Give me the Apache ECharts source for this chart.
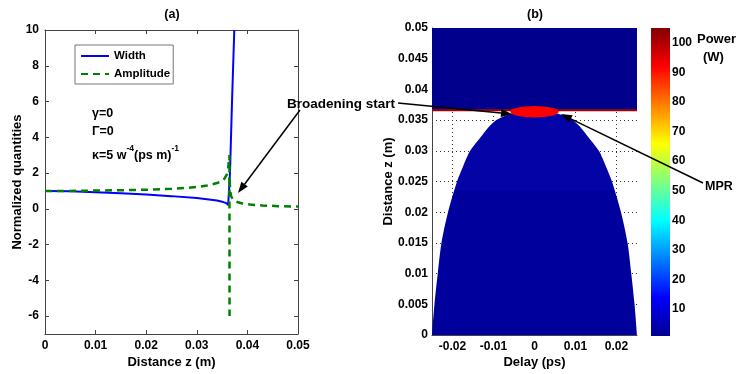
<!DOCTYPE html>
<html><head><meta charset="utf-8">
<script src="https://cdn.jsdelivr.net/npm/echarts@6/dist/echarts.min.js"></script>
<style>html,body{margin:0;padding:0;background:#fff}#c{width:737px;height:374px}</style>
</head><body><div id="c"></div>
<script>
// ---- panel (a) data ----
const zWidth = [0, 0.005, 0.01, 0.015, 0.02, 0.025, 0.03, 0.032, 0.034, 0.035, 0.0358, 0.0362, 0.03643, 0.03656, 0.03696, 0.03741];
const widthVals = [1.0, 0.98, 0.93, 0.87, 0.80, 0.71, 0.60, 0.54, 0.46, 0.40, 0.32, 0.22, 0.12, 2.0, 6.0, 10.0];
const zAmp = [0, 0.005, 0.01, 0.015, 0.02, 0.025, 0.028, 0.03, 0.032, 0.034, 0.035, 0.0355, 0.036, 0.0362, 0.03645, 0.03647, 0.03648, 0.0365, 0.0366, 0.0368, 0.0372, 0.0378, 0.039, 0.0405, 0.043, 0.046, 0.05];
const ampVals = [1.0, 1.0, 1.02, 1.04, 1.07, 1.12, 1.17, 1.22, 1.30, 1.44, 1.56, 1.70, 1.95, 2.27, 3.0, -6.0, '-', 1.6, 1.0, 0.7, 0.5, 0.4, 0.3, 0.24, 0.19, 0.15, 0.13];
const xTicksA = [0, 0.01, 0.02, 0.03, 0.04, 0.05];
const yTicksA = [-6, -4, -2, 0, 2, 4, 6, 8, 10];

// ---- panel (b) data ----
const domeZ = [0, 0.005, 0.01, 0.015, 0.02, 0.025, 0.0275, 0.03, 0.0325, 0.034, 0.035, 0.0356, 0.0362, 0.0366];
const domeHalf = [0.0250, 0.0244, 0.0236, 0.0227, 0.0211, 0.0189, 0.0174, 0.0157, 0.0128, 0.0110, 0.0093, 0.0076, 0.0050, 0.0];
const blockZ = 0.03662;
const mpr = [0, 0.03636, 0.0059, 0.00093]; // centre delay, centre z, half-width, half-height
const delayTicks = [-0.02, -0.01, 0, 0.01, 0.02];
const powerRange = [0.9, 105];
const powerTicks = [10, 20, 30, 40, 50, 60, 70, 80, 90, 100];

const FF = 'Liberation Sans, Arial, sans-serif';
const lbl = {fontFamily: FF, fontWeight: 'bold', fontSize: 12, color: '#000'};
const axLine = {show: true, onZero: false, lineStyle: {color: '#444', width: 1}};
const nameStyle = {fontFamily: FF, fontWeight: 'bold', fontSize: 13, color: '#000'};

const domePts = domeZ.map((z, i) => [-domeHalf[i], z])
  .concat(domeZ.slice(0, -1).map((z, i) => [domeHalf[i], z]).reverse());

function arrow(x1, y1, x2, y2) {
  const a = Math.atan2(y2 - y1, x2 - x1), c = Math.cos(a), s = Math.sin(a);
  const L = 11, W = 4;
  const bx = x2 - L * c, by = y2 - L * s;
  return [
    {type: 'line', shape: {x1: x1, y1: y1, x2: bx, y2: by}, style: {stroke: '#000', lineWidth: 1.5}, z: 100},
    {type: 'polygon', shape: {points: [[x2, y2], [bx - s * W, by + c * W], [bx + s * W, by - c * W]]}, style: {fill: '#000'}, z: 100}
  ];
}
function txt(x, y, t, size, align, extra) {
  return Object.assign({type: 'text', x: x, y: y, z: 100,
    style: Object.assign({text: t, fontFamily: FF, fontWeight: 'bold', fontSize: size || 12, fill: '#000',
      align: align || 'left', verticalAlign: 'middle'}, extra || {})});
}

const jet = [
  {offset: 0, color: 'rgb(0,0,143)'}, {offset: 0.125, color: 'rgb(0,0,255)'},
  {offset: 0.375, color: 'rgb(0,255,255)'}, {offset: 0.625, color: 'rgb(255,255,0)'},
  {offset: 0.875, color: 'rgb(255,0,0)'}, {offset: 1, color: 'rgb(128,0,0)'}
];

const chart = echarts.init(document.getElementById('c'));
chart.setOption({
  animation: false,
  backgroundColor: '#fff',
  textStyle: {fontFamily: FF},
  grid: [
    {left: 45, top: 30, width: 253, height: 308},
    {left: 432, top: 28, width: 205, height: 308},
    {left: 651, top: 28, width: 19, height: 308}
  ],
  legend: {
    left: 75, top: 45, orient: 'vertical', data: ['Width', 'Amplitude'],
    borderColor: '#777', borderWidth: 1, padding: [5, 3, 4, 5], itemGap: 6,
    itemWidth: 28, itemHeight: 12, backgroundColor: '#fff',
    itemStyle: {opacity: 0},
    textStyle: {fontFamily: FF, fontWeight: 'bold', fontSize: 11.5, color: '#000'}
  },
  xAxis: [
    {gridIndex: 0, type: 'value', min: 0, max: 0.05, interval: 0.01, axisLine: axLine,
      axisTick: {inside: true, length: 4, lineStyle: {color: '#444'}},
      axisLabel: Object.assign({margin: 6}, lbl), splitLine: {show: false},
      name: 'Distance z (m)', nameLocation: 'middle', nameGap: 22, nameMoveOverlap: false,
      nameTextStyle: nameStyle},
    {gridIndex: 0, type: 'value', position: 'top', min: 0, max: 0.05, interval: 0.01, axisLine: axLine,
      axisTick: {inside: true, length: 4, lineStyle: {color: '#444'}}, axisLabel: {show: false}, splitLine: {show: false}},
    {gridIndex: 1, type: 'value', min: -0.025, max: 0.025, axisLine: axLine,
      axisTick: {show: false, customValues: delayTicks},
      axisLabel: Object.assign({margin: 6, customValues: delayTicks}, lbl),
      splitLine: {show: true, lineStyle: {type: [1, 3], color: '#333', width: 1}},
      name: 'Delay (ps)', nameLocation: 'middle', nameGap: 21, nameMoveOverlap: false,
      nameTextStyle: nameStyle},
    {gridIndex: 2, type: 'category', data: ['P'], show: false}
  ],
  yAxis: [
    {gridIndex: 0, type: 'value', min: -7, max: 10, axisLine: axLine,
      axisTick: {inside: true, length: 4, customValues: yTicksA, lineStyle: {color: '#444'}},
      axisLabel: Object.assign({margin: 6, customValues: yTicksA}, lbl), splitLine: {show: false},
      name: 'Normalized quantities', nameLocation: 'middle', nameGap: 21, nameMoveOverlap: false,
      nameTextStyle: nameStyle},
    {gridIndex: 0, type: 'value', position: 'right', min: -7, max: 10, axisLine: axLine,
      axisTick: {inside: true, length: 4, customValues: yTicksA, lineStyle: {color: '#444'}},
      axisLabel: {show: false, customValues: yTicksA}, splitLine: {show: false}},
    {gridIndex: 1, type: 'value', min: 0, max: 0.05, interval: 0.005, axisLine: axLine,
      axisTick: {show: false}, axisLabel: Object.assign({margin: 4}, lbl),
      splitLine: {show: true, lineStyle: {type: [1, 3], color: '#333', width: 1}},
      name: 'Distance z (m)', nameLocation: 'middle', nameGap: 37, nameMoveOverlap: false,
      nameTextStyle: nameStyle},
    {gridIndex: 2, type: 'value', position: 'right', min: powerRange[0], max: powerRange[1],
      axisLine: {show: false}, splitLine: {show: false},
      axisTick: {show: true, inside: true, length: 3, customValues: powerTicks, lineStyle: {color: '#222'}},
      axisLabel: Object.assign({margin: 2, customValues: powerTicks}, lbl)}
  ],
  series: [
    {name: 'Width', type: 'line', xAxisIndex: 0, yAxisIndex: 0, symbol: 'none',
      data: zWidth.map((z, i) => [z, widthVals[i]]),
      lineStyle: {color: '#0000FF', width: 2}, itemStyle: {color: '#0000FF'}},
    {name: 'Amplitude', type: 'line', xAxisIndex: 0, yAxisIndex: 0, symbol: 'none', connectNulls: false,
      data: zAmp.map((z, i) => [z, ampVals[i]]),
      lineStyle: {color: '#008000', width: 2.5, type: [7, 5]}, itemStyle: {color: '#008000'}},
    {name: 'dome', type: 'line', xAxisIndex: 2, yAxisIndex: 2, symbol: 'none', silent: true,
      smooth: 0.25,
      data: domePts, lineStyle: {width: 0},
      areaStyle: {opacity: 1, color: new echarts.graphic.LinearGradient(0, 1, 0, 0, [
        {offset: 0, color: '#00009C'}, {offset: 0.64, color: '#00009C'},
        {offset: 0.645, color: '#0404A6'}, {offset: 1, color: '#0404A6'}])}},
    {name: 'block', type: 'line', xAxisIndex: 2, yAxisIndex: 2, symbol: 'none', silent: true,
      data: [[-0.025, blockZ], [0.025, blockZ]],
      lineStyle: {color: '#A80000', width: 2},
      areaStyle: {origin: 'end', opacity: 1, color: '#00008C'}},
    {name: 'MPR', type: 'custom', xAxisIndex: 2, yAxisIndex: 2, silent: true, z: 5,
      data: [mpr],
      renderItem: function (params, api) {
        const c = api.coord([api.value(0), api.value(1)]);
        const s = api.size([api.value(2), api.value(3)]);
        return {type: 'circle', x: c[0], y: c[1], scaleY: s[1] / s[0],
          shape: {cx: 0, cy: 0, r: s[0]}, style: {fill: '#FF0000'}};
      }},
    {name: 'colorbar', type: 'bar', xAxisIndex: 3, yAxisIndex: 3, silent: true, barWidth: '100%',
      data: [powerRange[1]],
      itemStyle: {color: new echarts.graphic.LinearGradient(0, 1, 0, 0, jet)}}
  ],
  graphic: [
    txt(172, 15, '(a)', 12.5, 'center'),
    txt(535, 15, '(b)', 12.5, 'center'),
    txt(92, 114, 'γ=0', 12.5),
    txt(92, 132, 'Γ=0', 12.5),
    {type: 'text', x: 92, y: 153, z: 100, style: {
      text: '{n|κ=5 w}{s|-4}{n|(ps m)}{s|-1}', verticalAlign: 'middle',
      rich: {
        n: {fontFamily: FF, fontWeight: 'bold', fontSize: 12.5, fill: '#000', lineHeight: 18, verticalAlign: 'bottom'},
        s: {fontFamily: FF, fontWeight: 'bold', fontSize: 8.5, fill: '#000', lineHeight: 18, verticalAlign: 'top'}
      }}},
    txt(287, 104, 'Broadening start', 13.5),
    txt(705, 187, 'MPR', 12.5),
    txt(697, 39, 'Power', 13),
    txt(703, 57, '(W)', 13)
  ].concat(arrow(300, 110, 238, 193), arrow(398, 103, 512, 114), arrow(703, 183, 561, 114))
});
</script></body></html>
